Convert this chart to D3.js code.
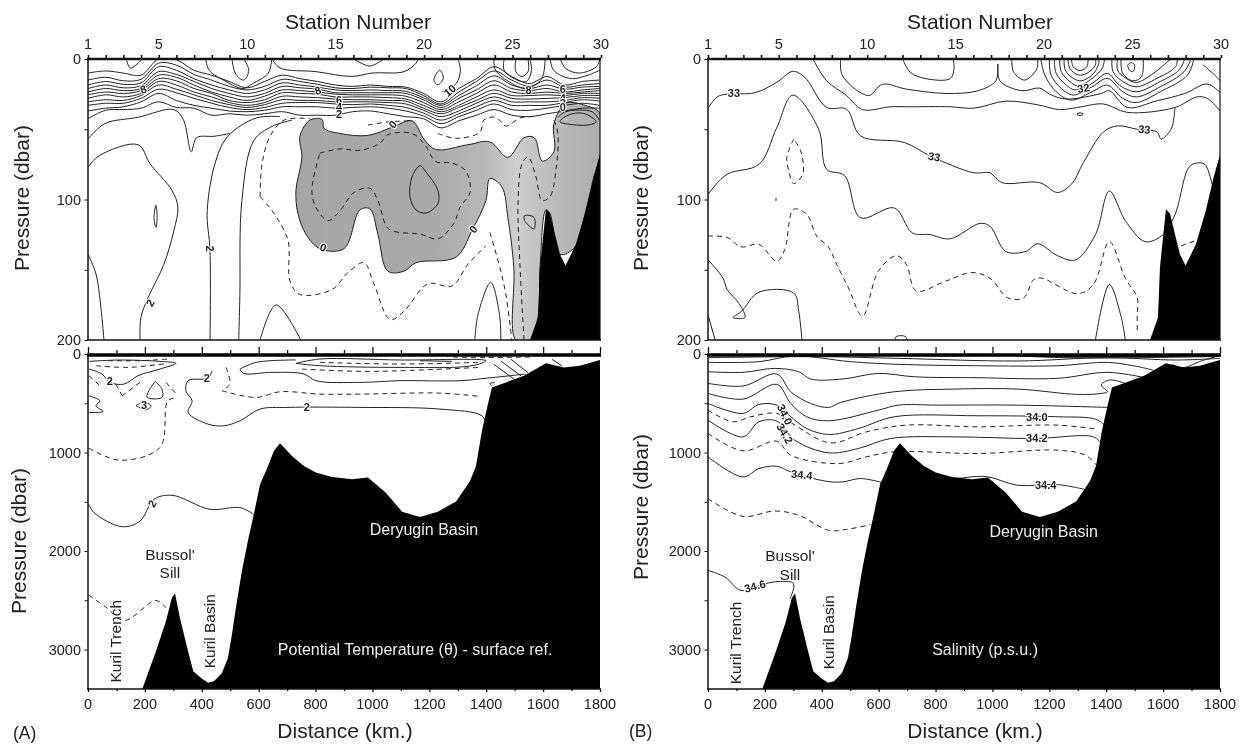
<!DOCTYPE html>
<html><head><meta charset="utf-8">
<script src="https://cdn.jsdelivr.net/npm/d3@7"></script>
<style>
html,body{margin:0;padding:0;background:#fff}
svg{display:block;filter:blur(0.3px)}
text{font-family:"Liberation Sans",Arial,sans-serif;fill:#222}
</style></head><body><svg id="c" width="1241" height="744"></svg>
<script>
// ---------- axis values ----------
const stationLabels=[1,5,10,15,20,25,30];
const stationsAll=d3.range(1,31);
const distanceLabels=[0,200,400,600,800,1000,1200,1400,1600,1800];
const distanceMinor=[100,300,500,700,900,1100,1300,1500,1700];
const upperPressureLabels=[0,100,200];
const upperPressureMinor=[50,150];
const lowerPressureLabels=[0,1000,2000,3000];
const lowerPressureMinor=[500,1500,2500];

// ---------- sea floor [km, dbar] ----------
const floorUpper=[[1554,200],[1582,184],[1589,148],[1610,107],[1624,110],[1659,139],[1679,147],[1715,132],[1750,108],[1778,84],[1800,68]];
const floorLower=[[190,3407],[239,3017],[274,2712],[295,2475],[306,2431],[323,2678],[349,2983],[370,3220],[401,3295],[422,3336],[443,3322],[471,3237],[492,3085],[506,2848],[520,2576],[541,2204],[562,1898],[583,1627],[605,1322],[626,1186],[654,983],[675,905],[717,1034],[759,1136],[801,1203],[858,1248],[928,1271],[984,1254],[1047,1407],[1104,1600],[1167,1654],[1230,1600],[1294,1498],[1343,1288],[1364,1136],[1385,780],[1406,508],[1420,339],[1469,288],[1533,220],[1610,95],[1673,136],[1729,119],[1800,61]];

// ---------- panel A, upper: temperature isotherm bundle, dbar at each station ----------
const thetaBundle=[
[10,8.5,10,11.5,0,0.5,8,11.5,16,20.5,16,11.5,14,16,18.5,19.5,18.5,19.5,20,24.5,30.5,21,14,5.5,12.5,17.5,12.5,18.5,16,15],
[15,13,15.5,14.5,3,4.3,11,15,19.5,22,19.5,14.5,16,18,20.5,21,20,20.5,21,26,32,23.5,16,8.5,15,19.5,15,20,18.5,17.5],
[18.5,16,18,17,5.5,8,14,18.5,22,24.5,22,17,18.5,20,22,22.5,22,22.5,23,27.5,33,26,19,12,18.5,21,18.5,21.5,20,19.5],
[21,18.5,20.5,19,9,11,16,21,24.5,27,24.5,19.5,20.5,21.5,24,24,24,24,24.5,29,34.5,28,22,15.5,21,22.5,21,23.5,22,21],
[23.5,21,22.5,21,11.5,13,18.5,23.5,27,29.5,26.5,22,22.5,23.5,25,25.5,25.5,25.5,26.5,31,36,30.5,24.5,18.5,23.5,24.5,23.5,24.5,23.5,22.5],
[25.5,23.5,24.5,22.5,14,15.5,21,24.5,29.5,31,29,24,24.5,25,27,27,27,27.5,28.5,33,37.5,33,27,22,26,26,25.5,26,24.5,24.5],
[28,25.5,27,24.5,16,18.5,23.5,27,31,33,31,26.5,27,27.5,28.5,29,29,29.5,30,35,39,34.5,29.5,24.5,28,28.5,28,27.5,26,26],
[30.5,29,29.5,26,18.5,21.5,25.5,29.5,32.5,34.5,32.5,29,29.5,29.5,30.5,30.5,30.5,31,32,36.5,41,37,31.5,27,30.5,30.5,30.5,29.5,27.5,28],
[33,31.5,31.5,28,21.5,24,28,31.5,34.5,36,34.5,31.5,31,31,32,32.5,32,33,34.5,38.5,43.5,39,34,29.5,33,33,33,31,29,30],
[37,35,34,30.5,24.5,29.5,33,35,37,37.5,36.5,34,34,34,35,34.5,34,35,37,40.5,46,41,36.5,32,36,36.5,35,33,31.5,33],
[42.5,36.5,36,35,30.5,34.5,35,40,39,40,39,37.5,40,40,40,37.5,37,39,41,42.5,49,44,40,36,40,41,39,37,35,35]
];
// ---------- panel A, upper: other isotherms [km, dbar] ----------
const thetaUpperSolid=[
[[0,57],[59,46],[176,41.5],[302,36],[335,43],[363,66],[382,56],[443,55],[499,53]],
[[429,200],[429,136.5],[419,108],[450,72],[492,55],[591,42],[675,41]],
[[0,77],[42,68.5],[176,61],[218,74.5],[295,93.5],[316,105.5],[302,122],[267,146],[211,170],[186,184],[183,200]],
[[0,139],[28,153],[49,184],[56,200]],
[[530,200],[534,167.6],[541,100.7],[583,58],[647,48],[717,43.5]],
[[605,200],[661,175],[748,200]],
[[1360,200],[1371,182],[1416,159],[1448,184],[1451,200]],
[[135,0],[148,6.4],[176,3],[190,0]],
[[506,0],[520,11],[548,15],[565,8],[548,0]],
[[935,0],[991,5],[1040,0]],
[[1504,0],[1504,9],[1525,12.4],[1547,9],[1547,0]],
[[647,0],[675,6.4],[801,9],[928,12.4],[998,10],[1111,9],[1153,3],[1160,0]],
[[414,0],[426,8],[485,16],[545,21],[580,17.4],[634,10],[646,0]],
[[1463,0],[1463,8],[1499,14],[1541,16],[1559,8],[1553,0]],
[[1625,0],[1637,8],[1703,14],[1800,8]],
[[1661,0],[1679,6.7],[1727,10],[1787,5.5],[1800,0]],
[[1427,0],[1433,8],[1487,17],[1541,21],[1595,14],[1607,0]],
[[1244,23.4],[1295,17.4],[1309,8],[1301,0]],
[[1652,41.5],[1680,37.5],[1772,37.5],[1797,43.4]]
];
const thetaUpperLoops=[
[[239,104],[232,112.7],[239,120],[243,112.7]],
[[1535,111.5],[1568,112.7],[1568,121],[1535,115]],
[[1659,44.6],[1687,40],[1743,38.7],[1786,44.6],[1757,47],[1687,46.3]],
[[1167,76],[1139,84],[1132,98],[1153,107.4],[1188,109.6],[1230,103],[1230,93.5],[1188,80.4]],
[[1216,15],[1237,8],[1249,13.6],[1230,18.4]]
];
const thetaUpperDashed=[
[[815,67],[886,64],[956,65],[1026,60],[1054,54],[1139,53],[1184,61],[1223,73],[1279,74],[1329,80],[1343,95],[1308,105.5],[1286,117],[1230,128],[1167,124.6],[1083,123],[1052,120],[1019,100.7],[991,92],[935,95],[886,108],[844,115],[801,105.5],[787,93.5],[815,67]],
[[605,98],[612,74.5],[640,55],[689,43.5],[780,42.5]],
[[605,98],[647,108],[703,129],[710,158],[745,167.6],[858,164],[914,152],[970,145],[1005,160],[1062,185.5],[1111,179.5],[1195,160],[1279,161.6],[1336,146],[1399,133]],
[[1413,123.4],[1448,148.5],[1469,167.6],[1490,200]],
[[1230,53],[1294,56.5],[1378,52],[1392,43.4],[1434,41.5],[1469,47.7],[1519,42],[1582,41]],
[[984,47],[1062,44.6],[1139,44]],
[[1533,200],[1519,148.5],[1512,100.7],[1526,74.5],[1547,69.7],[1575,84],[1596,100.7],[1624,98],[1645,79],[1652,53],[1638,43.4]]
];
const coldWater=[[780,43.5],[745,55],[752,70],[731,93.5],[738,110],[766,124.6],[815,135],[900,135],[956,107.4],[991,106.7],[1019,124.6],[1054,151],[1111,151],[1153,145],[1294,141],[1350,122],[1399,100.7],[1413,85],[1455,91],[1476,112.7],[1497,148.5],[1504,200],[1554,200],[1582,184],[1589,148.5],[1610,107.4],[1624,110],[1659,139],[1711,134],[1750,108],[1778,84],[1800,68.5],[1800,38.7],[1743,32.7],[1680,31.5],[1638,46],[1638,66],[1597,72.6],[1569,56],[1533,56],[1476,70],[1413,59],[1336,61],[1223,64.4],[1184,57.8],[1139,44],[1076,48],[984,54.4],[886,53],[830,49.4],[823,43]];
// text, km, dbar, turn
const thetaUpperLabels=[["8",194,21.5,-20],["8",808,22.4,-20],["6",883,29,0],["4",883,34.4,0],["2",883,39,0],["0",1071,46.5,-50],["10",1272,22.4,-40],["8",1549,22,0],["6",1669,21.5,0],["4",1669,28,0],["2",1669,31,0],["0",1669,34.4,0],["0",827,134,20],["0",1354,121,-50],["2",429,135,90],["2",218,173.5,-60]];

// ---------- panel A, lower ----------
const thetaLowerSolid=[
[[3,75],[112,61],[253,75],[309,95],[253,153],[176,220],[127,305],[77,288],[49,203],[3,152]],
[[3,424],[42,475],[28,525],[53,583],[3,593]],
[[236,278],[211,390],[208,441],[260,441],[260,356],[236,278]],
[[169,525],[194,492],[222,525],[204,566],[169,525]],
[[436,170],[422,244],[352,271],[344,373],[366,475],[352,593],[422,712],[478,729],[534,678],[605,559],[703,542],[956,542],[1237,559],[1385,627],[1399,712]],
[[534,153],[548,197],[647,186],[759,203],[801,271],[956,288],[1097,271],[1308,271],[1406,244],[1539,203]],
[[534,153],[591,85],[731,60]],
[[731,95],[815,51],[1097,61],[1399,68],[1350,119],[1097,136],[815,119],[731,95]],
[[3,1526],[21,1610],[120,1753],[183,1695],[232,1475],[295,1434],[429,1576],[534,1559],[583,1627]],
[[1427,105],[1499,257]],[[1451,71],[1523,223]],[[1487,54],[1547,190]],[[1631,54],[1667,122]],
[[1167,68],[1279,75]],[[1420,322],[1412,300],[1430,290]]
];
const thetaLowerDashed=[
[[28,119],[141,136],[281,95]],
[[70,68],[183,68],[281,51]],
[[815,85],[1097,102],[1378,85]],
[[752,153],[956,176],[1097,170],[1378,136]],
[[471,373],[591,441],[675,383],[815,407],[956,407],[1237,397],[1378,431]],
[[485,136],[499,305],[471,373]],
[[3,220],[42,322]],[[98,305],[120,424]],[[183,288],[120,424]],[[274,288],[316,424]],
[[3,956],[112,1078],[253,949],[281,475],[316,441]],
[[3,2448],[63,2570],[127,2705],[239,2502],[274,2576]],
[[1283,30],[1400,35],[1560,30]]
];
const thetaLowerLabels=[["2",77,278,0],["2",418,244,0],["3",197,515,0],["2",769,542,0],["2",225,1519,-60]];

// ---------- panel B, upper ----------
const salinityUpperSolid=[
[[0,35],[32,27],[67,25],[165,24],[242,16.6],[298,8.8],[340,13],[417,34.5],[487,35.7],[536,54.7],[690,59.4],[781,69],[935,81],[991,81],[1033,88],[1166,88],[1229,95],[1278,89],[1320,73.7],[1390,52],[1439,47.6],[1509,50],[1579,52],[1593,57],[1628,50],[1638,41.6],[1642,34.5]],
[[0,96.3],[67,82],[179,75],[242,48.7],[298,25.7],[389,50],[417,78.5],[480,83],[536,113],[655,106],[718,123.7],[781,125],[851,128],[956,117],[991,119],[1047,137],[1117,137],[1159,131.5],[1229,140],[1292,143],[1362,125],[1411,94],[1467,115],[1537,130],[1600,125],[1642,110.6],[1691,77],[1719,74],[1747,75],[1775,91.6]],
[[371,0.7],[417,15.5],[487,26],[543,36],[641,34],[711,34],[851,34],[935,35],[1047,30],[1159,32.6],[1236,36],[1299,34.5],[1390,32],[1474,38],[1642,34.5],[1719,27],[1755,28],[1800,37]],
[[466,0.7],[473,12],[564,26],[613,18],[697,21.4],[837,24.5],[949,22.6],[1012,15.5],[1019,3.6],[1026,15.5],[1103,22.6],[1166,20.7],[1201,25],[1257,28.5],[1383,24.5],[1411,22.6],[1474,34.5],[1579,29.7],[1677,24.5],[1755,17.8],[1800,23.8]],
[[1740,4],[1789,13],[1800,15.5]],
[[686,0.7],[711,9.5],[767,14],[851,14],[865,7],[862,0.7]],
[[1068,0.7],[1075,9.5],[1114,15],[1156,7],[1159,0.7]],
[[1170,0],[1184,11.4],[1224,23.3],[1278,29.3],[1350,23.3],[1404,18.6],[1458,28],[1506,31],[1590,23.3],[1686,11.4],[1708,0]],
[[1200,0],[1206,11.4],[1242,21],[1284,25.7],[1350,19.8],[1404,13.8],[1458,23.3],[1506,27],[1590,19.8],[1674,9],[1698,0]],
[[1218,0],[1224,10.2],[1260,18.6],[1290,22],[1350,17.4],[1404,10.2],[1446,18.6],[1506,23.3],[1590,16],[1656,7.9],[1676,0]],
[[1236,0],[1242,9],[1272,16],[1302,19.3],[1350,13.8],[1386,6.7],[1394,0]],
[[1420,0],[1424,9],[1458,16],[1506,19.8],[1578,13.8],[1644,5.5],[1650,0]],
[[1252,0],[1256,7.9],[1284,13.8],[1314,15.5],[1356,10.2],[1374,3],[1374,0]],
[[1440,0],[1440,7.9],[1470,13.8],[1506,16.7],[1566,10.2],[1626,0]],
[[1266,0],[1272,6.7],[1302,11.4],[1332,10.2],[1362,4.3],[1362,0]],
[[1452,0],[1458,10.2],[1494,15.5],[1524,12.6],[1530,0]],
[[1278,0],[1284,5.5],[1308,8.3],[1332,5.5],[1336,0]],
[[0,143],[53,156],[67,164],[109,174],[130,184],[88,184],[116,180],[179,166],[301,166.5],[319,179.5],[330,200]],
[[0,182],[25,200]],
[[658,200],[662,197.5],[694,197.5],[700,200]],
[[1362,200],[1411,160.5],[1453,184],[1467,200]]
];
const salinityUpperLoops=[
[[1476,4.3],[1482,7.9],[1494,9],[1500,4.3],[1488,2.6]],
[[1296,39.3],[1308,38.3],[1320,39.3],[1308,40.2]]
];
const salinityUpperDashed=[
[[301,57],[277,70],[284,79.7],[301,88.7],[333,82],[326,65.4],[301,57]],
[[0,126],[67,127],[116,133.7],[179,132],[242,144],[270,135.5],[301,107],[347,110.6],[382,126],[424,134],[452,146],[494,163],[543,183],[599,151],[662,140],[697,146],[732,165],[837,158],[928,152],[991,156],[1054,170],[1110,170],[1145,157],[1173,156],[1299,167],[1355,160.5],[1411,130],[1467,156],[1509,170],[1509,182],[1509,196]],
[[239,99],[239,101]],
[[1663,133],[1719,129]]
];
const salinityUpperLabels=[["33",91,24.5,0],["33",795,69.5,10],["33",1534,50,5],["32",1320,20.7,-10]];

// ---------- panel B, lower ----------
const salinityLowerSolid=[
[[0,37],[389,27],[669,44],[1089,71],[1397,37],[1649,61],[1800,44]],
[[0,85],[179,78],[305,20],[501,78],[669,105],[949,119],[1229,119],[1404,85],[1495,119],[1565,163]],
[[0,180],[123,186],[235,146],[319,180],[361,254],[473,254],[599,197],[725,231],[949,241],[1229,247],[1404,186],[1537,241]],
[[0,298],[123,325],[242,203],[291,383],[361,502],[424,542],[466,492],[655,383],[865,356],[1089,356],[1299,410],[1383,400],[1404,383],[1383,315],[1411,264],[1467,298]],
[[0,400],[123,458],[242,308],[291,502],[347,637],[424,678],[599,570],[669,519],[809,519],[1089,519],[1404,542]],
[[0,502],[123,603],[179,512],[242,519],[291,637],[347,756],[424,817],[529,756],[655,637],[949,627],[1229,637],[1362,661],[1394,722]],
[[0,671],[123,841],[179,688],[242,681],[305,875],[424,1003],[529,959],[641,858],[865,841],[1145,858],[1355,841],[1383,908]],
[[0,1044],[123,1248],[179,1163],[242,1139],[291,1197],[417,1292],[473,1298],[536,1264],[613,1305]],
[[795,1214],[851,1261],[977,1244],[1089,1332],[1229,1325],[1327,1376]],
[[0,2197],[60,2264],[116,2400],[200,2332],[249,2309],[298,2322],[302,2366],[288,2485]],
[[1632,105],[1668,139],[1734,71],[1794,20]],
[[1089,15],[1300,32],[1800,15]],
[[1089,10],[1300,25],[1800,10]],
[[450,10],[800,18],[1100,12]],
[[1089,20],[1300,40],[1800,25]]
];
const salinityLowerDashed=[
[[0,570],[88,688],[151,637],[242,603],[305,722],[431,902],[557,790],[697,722],[949,739],[1229,722],[1369,763]],
[[0,807],[123,983],[242,885],[291,1027],[459,1112],[557,1044],[655,993],[949,1010],[1229,976],[1327,1027],[1366,1129]],
[[0,1468],[123,1648],[235,1593],[319,1637],[424,1790],[487,1780],[571,1732]]
];
const salinityLowerLabels=[["34.0",270,614,65],["34.2",270,807,60],["34.0",1156,641,0],["34.2",1156,851,0],["34.4",330,1224,5],["34.4",1187,1332,0],["34.6",165,2356,-15]];

// ---------- place names ----------
const namesA=[["Bussol'",288,2034,0],["Sill",288,2220,0],["Kuril Trench",96,2915,-90],["Kuril Basin",426,2814,-90]];
const whiteNamesA=[["Deryugin Basin",1181,1780],["Potential Temperature (θ) - surface ref.",1150,3000]];
const namesB=[["Bussol'",288,2044,0],["Sill",288,2237,0],["Kuril Trench",95,2932,-90],["Kuril Basin",424,2824,-90]];
const whiteNamesB=[["Deryugin Basin",1180,1797],["Salinity (p.s.u.)",974,2993]];

// ---------- layout ----------
const svg=d3.select("#c");
const lineColor="#222";
const defs=svg.append("defs");
const grad=defs.append("linearGradient").attr("id","cold");
[[0,"#a6a6a6"],[0.45,"#a9a9a9"],[0.62,"#b8b8b8"],[0.72,"#cfcfcf"],[0.82,"#bdbdbd"],[1,"#ababab"]]
  .forEach(s=>grad.append("stop").attr("offset",s[0]).attr("stop-color",s[1]));

function panel(cfg){
  const g=svg.append("g");
  const x=d3.scaleLinear().domain([0,1800]).range([cfg.left,cfg.right]);
  const st=d3.scaleLinear().domain([1,30]).range([cfg.left,cfg.right+1]);
  const kmOfStation=d3.scaleLinear().domain([1,30]).range([0,1800]);
  const yU=d3.scaleLinear().domain([0,200]).range([59,340]);
  const yL=d3.scaleLinear().domain([0,3400]).range([354,689]);
  const clipId="clip"+cfg.name;
  const cp=defs.append("clipPath").attr("id",clipId+"U");
  cp.append("rect").attr("x",cfg.left).attr("y",59).attr("width",cfg.right-cfg.left).attr("height",281);
  const cl=defs.append("clipPath").attr("id",clipId+"L");
  cl.append("rect").attr("x",cfg.left).attr("y",354).attr("width",cfg.right-cfg.left).attr("height",335);

  const up=g.append("g").attr("clip-path",`url(#${clipId}U)`);
  const lo=g.append("g").attr("clip-path",`url(#${clipId}L)`);
  const soft=d3.curveCatmullRom.alpha(0.5);
  const softClosed=d3.curveCatmullRomClosed.alpha(0.5);
  const lineU=d3.line().x(d=>x(d[0])).y(d=>yU(d[1]));
  const lineL=d3.line().x(d=>x(d[0])).y(d=>yL(d[1]));
  const roundU=d3.line().x(d=>x(d[0])).y(d=>yU(d[1])).curve(soft);
  const roundL=d3.line().x(d=>x(d[0])).y(d=>yL(d[1])).curve(soft);
  const loopU=d3.line().x(d=>x(d[0])).y(d=>yU(d[1])).curve(softClosed);
  const draw=(sel,arr,gen,dash)=>sel.selectAll(null).data(arr).join("path")
     .attr("d",gen).attr("fill","none").attr("stroke",lineColor).attr("stroke-width",1)
     .attr("stroke-dasharray",dash||null);

  if(cfg.cold){
    up.append("path").attr("d",loopU(cfg.cold)).attr("fill","url(#cold)").attr("stroke",lineColor).attr("stroke-width",1);
  }
  if(cfg.bundle){
    const rows=cfg.bundle.map(r=>r.map((v,i)=>[kmOfStation(i+1),v]));
    draw(up,rows,roundU);
  }
  draw(up,cfg.upperSolid,roundU);
  draw(up,cfg.upperLoops,loopU);
  draw(up,cfg.upperDashed,roundU,"5,4");
  up.append("path").attr("d",lineU([[floorUpper[0][0],200],...floorUpper,[1800,200]])+"Z").attr("fill","#000");

  draw(lo,cfg.lowerSolid,roundL);
  draw(lo,cfg.lowerDashed,roundL,"5,4");
  lo.append("path").attr("d",lineL(floorLower)+`L${x(1800)},${yL(3400)}L${x(floorLower[0][0])},${yL(3400)}Z`).attr("fill","#000");

  // contour labels
  const lab=(labels,y)=>g.selectAll(null).data(labels).join("text")
    .attr("transform",d=>`translate(${x(d[1])},${y(d[2])}) rotate(${d[3]})`)
    .attr("text-anchor","middle").attr("dy","0.36em").attr("font-size",11).attr("font-weight",700)
    .attr("stroke","#fff").attr("stroke-width",2).attr("paint-order","stroke").text(d=>d[0]);
  lab(cfg.upperLabels,yU); lab(cfg.lowerLabels,yL);

  // upper panel axes
  g.append("line").attr("x1",cfg.left-1).attr("x2",cfg.right+1).attr("y1",59).attr("y2",59).attr("stroke","#111").attr("stroke-width",2.4);
  g.append("line").attr("x1",cfg.left).attr("x2",cfg.left).attr("y1",59).attr("y2",340).attr("stroke","#111").attr("stroke-width",1.5);
  g.append("line").attr("x1",cfg.right).attr("x2",cfg.right).attr("y1",59).attr("y2",340).attr("stroke","#111").attr("stroke-width",1.2);
  g.append("line").attr("x1",cfg.left-1).attr("x2",cfg.right+1).attr("y1",340).attr("y2",340).attr("stroke","#111").attr("stroke-width",1.6);
  const topAxis=d3.axisTop(st).tickValues(stationsAll).tickSize(3).tickFormat(()=>"");
  g.append("g").attr("transform","translate(0,58)").call(topAxis).call(a=>{a.select(".domain").remove();a.selectAll("line").attr("stroke","#111").attr("stroke-width",1.6);});
  g.selectAll(null).data(stationLabels).join("text").attr("x",d=>st(d)).attr("y",49).attr("text-anchor","middle").attr("font-size",14.5).text(d=>d);
  g.append("text").attr("x",cfg.stationTitle).attr("y",29).attr("text-anchor","middle").attr("font-size",21).text("Station Number");

  const leftU=d3.axisLeft(yU).tickValues([...upperPressureLabels,...upperPressureMinor]).tickSize(3).tickFormat(()=>"");
  g.append("g").attr("transform",`translate(${cfg.left-0.5},0)`).call(leftU).call(a=>{a.select(".domain").remove();a.selectAll("line").attr("stroke","#111");});
  g.selectAll(null).data(upperPressureLabels).join("text").attr("x",cfg.left-7).attr("y",d=>yU(d)).attr("dy","0.36em").attr("text-anchor","end").attr("font-size",14.5).text(d=>d);
  g.append("text").attr("transform",`translate(${cfg.titleUX},198) rotate(-90)`).attr("dy","0.36em").attr("text-anchor","middle").attr("font-size",21).text("Pressure (dbar)");

  // lower panel axes
  g.append("line").attr("x1",cfg.left-1).attr("x2",cfg.right+1).attr("y1",355).attr("y2",355).attr("stroke","#000").attr("stroke-width",3.6);
  g.append("line").attr("x1",cfg.left).attr("x2",cfg.left).attr("y1",354).attr("y2",689).attr("stroke","#111").attr("stroke-width",1.5);
  g.append("line").attr("x1",cfg.left-1).attr("x2",cfg.right+1).attr("y1",689).attr("y2",689).attr("stroke","#111").attr("stroke-width",1.4);
  const mk=(vals,size)=>d3.axisTop(x).tickValues(vals).tickSize(size).tickFormat(()=>"");
  const mkB=(vals,size)=>d3.axisBottom(x).tickValues(vals).tickSize(size).tickFormat(()=>"");
  const clean=a=>{a.select(".domain").remove();a.selectAll("line").attr("stroke","#111").attr("stroke-width",1.3);};
  g.append("g").attr("transform","translate(0,353)").call(mk(distanceLabels,6)).call(clean);
  g.append("g").attr("transform","translate(0,353)").call(mk(distanceMinor,3)).call(clean);
  g.append("g").attr("transform","translate(0,689)").call(mkB(distanceLabels,3)).call(clean);
  g.append("g").attr("transform","translate(0,689)").call(mkB(distanceMinor,2)).call(clean);
  g.selectAll(null).data(distanceLabels).join("text").attr("x",d=>x(d)).attr("y",709).attr("text-anchor","middle").attr("font-size",14.5).text(d=>d);
  g.append("text").attr("x",cfg.distTitle).attr("y",738).attr("text-anchor","middle").attr("font-size",21).text("Distance (km.)");
  const leftL=d3.axisLeft(yL).tickValues([...lowerPressureLabels,...lowerPressureMinor]).tickSize(3).tickFormat(()=>"");
  g.append("g").attr("transform",`translate(${cfg.left-0.5},0)`).call(leftL).call(a=>{a.select(".domain").remove();a.selectAll("line").attr("stroke","#111");});
  g.selectAll(null).data(lowerPressureLabels).join("text").attr("x",cfg.left-7).attr("y",d=>yL(d)).attr("dy","0.36em").attr("text-anchor","end").attr("font-size",14.5).text(d=>d);
  g.append("text").attr("transform",`translate(${cfg.titleLX},${cfg.titleLY}) rotate(-90)`).attr("dy","0.36em").attr("text-anchor","middle").attr("font-size",21).text("Pressure (dbar)");

  // names
  g.selectAll(null).data(cfg.names).join("text").attr("transform",d=>`translate(${x(d[1])},${yL(d[2])}) rotate(${d[3]})`)
    .attr("text-anchor","middle").attr("dy","0.36em").attr("font-size",15.5).text(d=>d[0]);
  g.selectAll(null).data(cfg.whiteNames).join("text").attr("x",d=>x(d[1])).attr("y",d=>yL(d[2])).attr("dy","0.36em")
    .attr("text-anchor","middle").attr("font-size",16).style("fill","#eee").text(d=>d[0]);
  g.append("text").attr("x",cfg.tagX).attr("y",cfg.tagY).attr("font-size",17.5).text(cfg.tag);
}

panel({name:"A",left:88,right:600,stationTitle:358,distTitle:345,titleUX:21,titleLX:18,titleLY:541,tag:"(A)",tagX:13,tagY:739,
  cold:coldWater,bundle:thetaBundle,upperSolid:thetaUpperSolid,upperLoops:thetaUpperLoops,upperDashed:thetaUpperDashed,upperLabels:thetaUpperLabels,
  lowerSolid:thetaLowerSolid,lowerDashed:thetaLowerDashed,lowerLabels:thetaLowerLabels,names:namesA,whiteNames:whiteNamesA});
panel({name:"B",left:708,right:1220,stationTitle:980,distTitle:975,titleUX:640,titleLX:640,titleLY:507,tag:"(B)",tagX:629,tagY:737,
  upperSolid:salinityUpperSolid,upperLoops:salinityUpperLoops,upperDashed:salinityUpperDashed,upperLabels:salinityUpperLabels,
  lowerSolid:salinityLowerSolid,lowerDashed:salinityLowerDashed,lowerLabels:salinityLowerLabels,names:namesB,whiteNames:whiteNamesB});
</script></body></html>
